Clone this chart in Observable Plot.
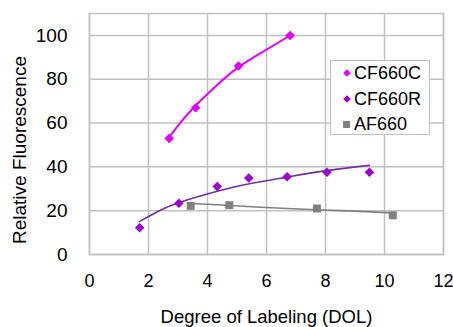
<!DOCTYPE html>
<html>
<head>
<meta charset="utf-8">
<script src="https://cdn.jsdelivr.net/npm/d3@7"></script>
<script src="https://cdn.jsdelivr.net/npm/@observablehq/plot@0.6"></script>
<style>
  html, body { margin: 0; padding: 0; background: #fff; }
  #wrap { position: relative; width: 453px; height: 327px; font-family: "Liberation Sans", Arial, sans-serif; color: #000; }
  #wrap svg { position: absolute; left: 0; top: 0; overflow: visible; }
  .xtitle { position: absolute; left: 0; width: 533px; top: 306px; text-align: center; font-size: 18.5px; line-height: 22px; }
  .ytitle { position: absolute; left: -105px; top: 139px; width: 250px; text-align: center; font-size: 19px; line-height: 22px; transform: rotate(-90deg); transform-origin: 125px 11px; }
  .legend { position: absolute; left: 330px; top: 60px; width: 98px; height: 73px; border: 1.5px solid #c0c0c0; background: #fff; }
  .legend .row { position: absolute; left: 0; height: 22px; line-height: 22px; font-size: 18px; }
  .legend .mk { position: absolute; width: 6px; height: 6px; }
  .legend .txt { position: absolute; left: 23px; white-space: nowrap; }
</style>
</head>
<body>
<div id="wrap"></div>
<script>
// ---- data ----
const xTicks = [0, 2, 4, 6, 8, 10, 12];
const yTicks = [0, 20, 40, 60, 80, 100];
const seriesNames = ["CF660C", "CF660R", "AF660"];
const seriesColors = ["#e000ff", "#9900cc", "#808080"];
const lineColors = ["#e000ff", "#7030a0", "#7f7f7f"];

const cf660cX = [2.7, 3.6, 5.05, 6.8];
const cf660cY = [53, 67, 86, 100];
const cf660rX = [1.7, 3.03, 4.33, 5.4, 6.7, 8.05, 9.49];
const cf660rY = [12.2, 23.4, 31.0, 34.9, 35.5, 37.5, 37.5];
const af660X = [3.43, 4.74, 7.71, 10.28];
const af660Y = [22.2, 22.5, 21.0, 17.9];

// trend lines
const cf660cTrendX = [2.7, 3.07, 3.6, 4.3, 5.05, 6.0, 6.8];
const cf660cTrendY = [53.5, 60, 68, 77, 85.5, 93.5, 100];
const cf660rTrendX = [1.7, 2.4, 3.07, 4.43, 5.5, 6.68, 8.03, 9.49];
const cf660rTrendY = [15.1, 20.2, 23.9, 29.2, 32.5, 35.3, 38.3, 40.7];
const af660TrendX = [3.43, 4.5, 5.5, 6.5, 7.7, 9.0, 10.28];
const af660TrendY = [23.3, 22.6, 21.8, 21.1, 20.4, 19.8, 19.0];

const pts = (xs, ys) => xs.map((x, i) => ({x, y: ys[i]}));

const plot = Plot.plot({
  width: 453,
  height: 327,
  marginLeft: 89,
  marginRight: 10,
  marginTop: 13,
  marginBottom: 73,
  x: {domain: [0, 12]},
  y: {domain: [0, 110]},
  style: {fontFamily: "'Liberation Sans', Arial, sans-serif", background: "transparent", color: "#000"},
  marks: [
    Plot.gridX(xTicks, {stroke: "#c0c0c0", strokeOpacity: 1, strokeWidth: 1.5}),
    Plot.gridY(yTicks, {stroke: "#c0c0c0", strokeOpacity: 1, strokeWidth: 1.5}),
    Plot.frame({stroke: "#c0c0c0", strokeWidth: 1.5}),
    Plot.axisX(xTicks, {tickSize: 0, tickPadding: 20, fontSize: 18, label: null}),
    Plot.axisY(yTicks, {tickSize: 0, tickPadding: 22, fontSize: 19, label: null}),
    Plot.line(pts(cf660cTrendX, cf660cTrendY), {x: "x", y: "y", stroke: lineColors[0], strokeWidth: 2, curve: "natural"}),
    Plot.line(pts(cf660rTrendX, cf660rTrendY), {x: "x", y: "y", stroke: lineColors[1], strokeWidth: 1.6, curve: "natural"}),
    Plot.line(pts(af660TrendX, af660TrendY), {x: "x", y: "y", stroke: lineColors[2], strokeWidth: 1.6, curve: "natural"}),
    Plot.dot(pts(cf660cX, cf660cY), {x: "x", y: "y", symbol: "diamond2", fill: seriesColors[0], stroke: "none", r: 4.3}),
    Plot.dot(pts(cf660rX, cf660rY), {x: "x", y: "y", symbol: "diamond2", fill: seriesColors[1], stroke: "none", r: 4.3}),
    Plot.dot(pts(af660X, af660Y), {x: "x", y: "y", symbol: "square", fill: seriesColors[2], stroke: "none", r: 4.5})
  ]
});

const wrap = document.getElementById("wrap");
wrap.appendChild(plot);

const xt = document.createElement("div");
xt.className = "xtitle";
xt.textContent = "Degree of Labeling (DOL)";
wrap.appendChild(xt);

const yt = document.createElement("div");
yt.className = "ytitle";
yt.textContent = "Relative Fluorescence";
wrap.appendChild(yt);

const lg = document.createElement("div");
lg.className = "legend";
seriesNames.forEach((name, i) => {
  const row = document.createElement("div");
  row.className = "row";
  row.style.top = (1 + i * 25.5) + "px";
  const mk = document.createElement("div");
  mk.className = "mk";
  mk.style.background = seriesColors[i];
  mk.style.left = "13px";
  mk.style.top = "8px";
  if (i < 2) mk.style.transform = "rotate(45deg) scale(0.9)";
  else { mk.style.width = "7px"; mk.style.height = "7px"; mk.style.left = "12px"; }
  const tx = document.createElement("span");
  tx.className = "txt";
  tx.textContent = name;
  row.appendChild(mk);
  row.appendChild(tx);
  lg.appendChild(row);
});
wrap.appendChild(lg);
</script>
</body>
</html>
